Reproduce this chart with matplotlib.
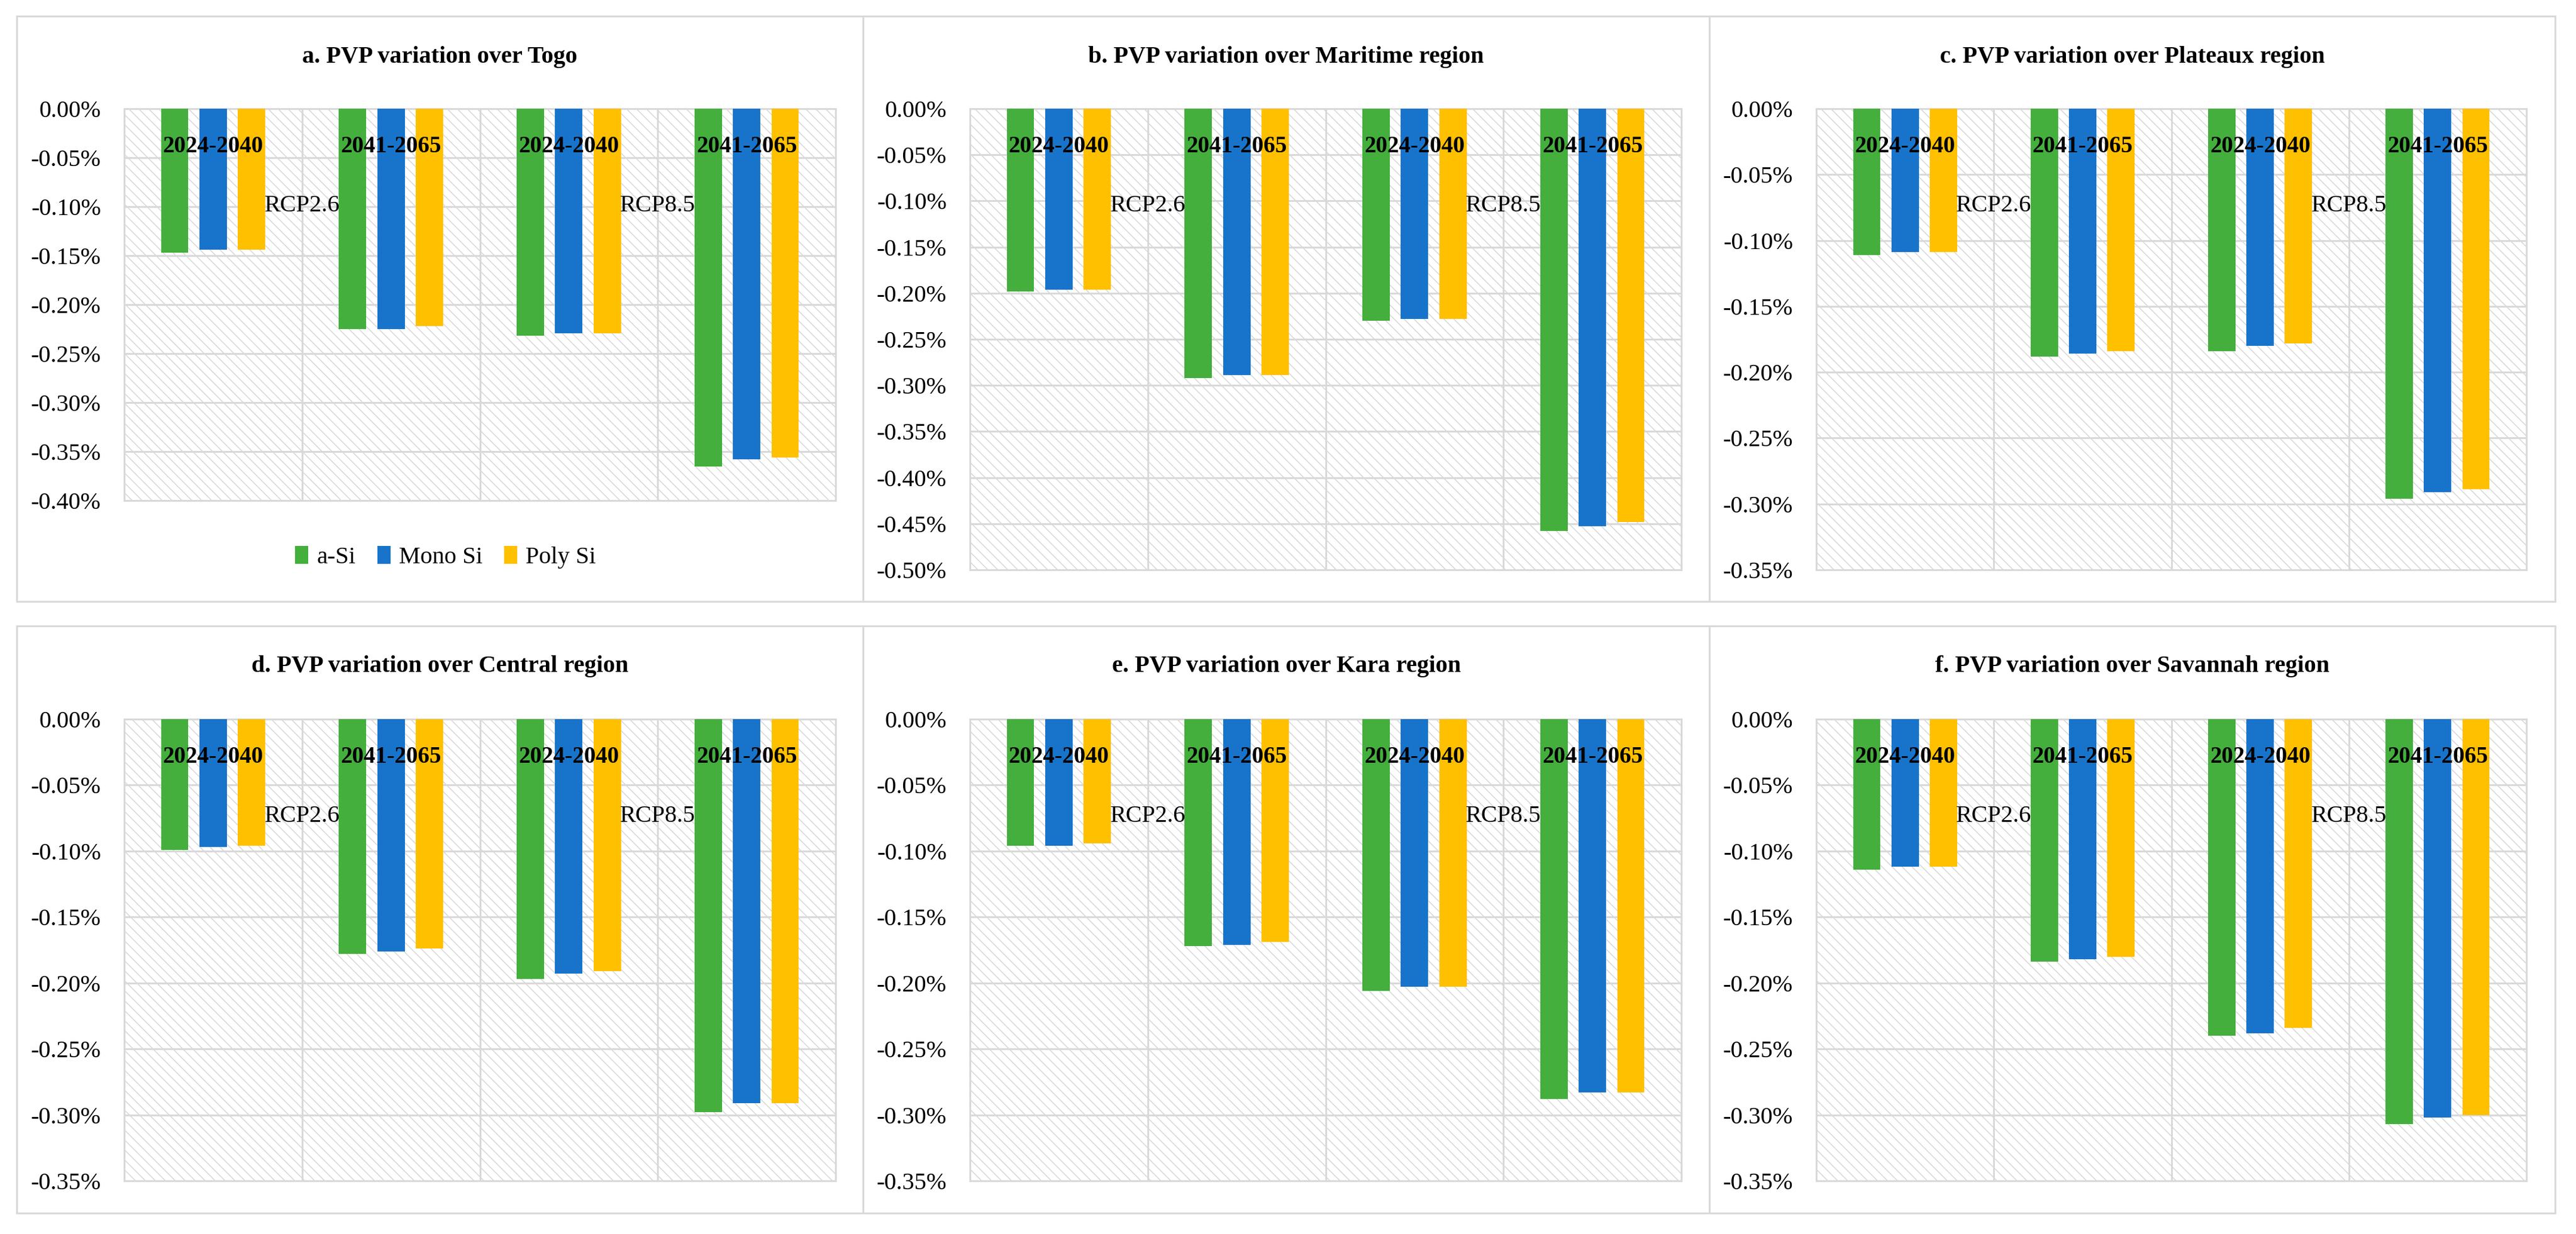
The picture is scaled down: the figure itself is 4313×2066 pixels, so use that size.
import matplotlib
matplotlib.use("Agg")
import matplotlib.pyplot as plt
from matplotlib.patches import Rectangle
from matplotlib.ticker import FuncFormatter, MultipleLocator
import numpy as np

plt.rcParams['font.family'] = ['Liberation Serif', 'DejaVu Serif']
plt.rcParams['hatch.linewidth'] = 1.0

# ---------------- data ----------------
periods = ["2024-2040", "2041-2065", "2024-2040", "2041-2065"]
scenarios = ["RCP2.6", "RCP8.5"]
techs = ["a-Si", "Mono Si", "Poly Si"]
colors = ["#44AF3D", "#1874CB", "#FFC000"]

titles = ["a. PVP variation over Togo",
          "b. PVP variation over Maritime region",
          "c. PVP variation over Plateaux region",
          "d. PVP variation over Central region",
          "e. PVP variation over Kara region",
          "f. PVP variation over Savannah region"]

# values in % ; rows: a-Si, Mono Si, Poly Si ; columns: periods
togo = [[-0.147, -0.225, -0.232, -0.365],
        [-0.144, -0.225, -0.229, -0.358],
        [-0.144, -0.222, -0.229, -0.356]]
maritime = [[-0.198, -0.292, -0.230, -0.458],
            [-0.196, -0.289, -0.228, -0.453],
            [-0.196, -0.289, -0.228, -0.448]]
plateaux = [[-0.111, -0.188, -0.184, -0.296],
            [-0.109, -0.186, -0.180, -0.291],
            [-0.109, -0.184, -0.178, -0.289]]
central = [[-0.099, -0.178, -0.197, -0.298],
           [-0.097, -0.176, -0.193, -0.291],
           [-0.096, -0.174, -0.191, -0.291]]
kara = [[-0.096, -0.172, -0.206, -0.288],
        [-0.096, -0.171, -0.203, -0.283],
        [-0.094, -0.169, -0.203, -0.283]]
savannah = [[-0.114, -0.184, -0.240, -0.307],
            [-0.112, -0.182, -0.238, -0.302],
            [-0.112, -0.180, -0.234, -0.300]]
regions = [togo, maritime, plateaux, central, kara, savannah]
ymins = [-0.40, -0.50, -0.35, -0.35, -0.35, -0.35]

# ---------------- layout ----------------
W, H = 4313, 2066
fig = plt.figure(figsize=(W / 100, H / 100), dpi=100)
GRAY = "#d9d9d9"

def fx(x):
    return x / W

def fy(y):
    return 1 - y / H

# panel frames (pixels): columns and rows
col_edges = [28, 1445, 2862, 4278]
row_edges = [(27, 1007), (1048, 2031)]
for (t, b) in row_edges:
    for i in range(3):
        fig.add_artist(Rectangle((fx(col_edges[i]), fy(b)),
                                 fx(col_edges[i + 1]) - fx(col_edges[i]),
                                 fy(t) - fy(b), transform=fig.transFigure,
                                 fill=False, edgecolor=GRAY, linewidth=2.2))

axes_px = [(208, 1399, 182, 838), (1624, 2815, 182, 954), (3041, 4230, 182, 954),
           (208, 1399, 1204, 1977), (1624, 2815, 1204, 1977), (3041, 4230, 1204, 1977)]
title_y = [96, 1115]

fmt = FuncFormatter(lambda v, p: ("%.2f%%" % v).replace("-0.00", "0.00"))

offsets = [-0.216, 0.0, 0.216]
bw = 0.154
x = np.arange(len(periods))

for k, ax_px in enumerate(axes_px):
    l, r, t, b = ax_px
    ax = fig.add_axes([fx(l), fy(b), fx(r) - fx(l), fy(t) - fy(b)])
    ax.set_axisbelow(True)
    # hatched background
    ax.add_patch(Rectangle((0, 0), 1, 1, transform=ax.transAxes, facecolor="white",
                           edgecolor="#d4d4d4", linewidth=0, hatch="\\\\", zorder=0.1))
    data = regions[k]
    for j in range(3):
        ax.bar(x + offsets[j], data[j], width=bw, color=colors[j], label=techs[j],
               zorder=3)
    ax.set_xlim(-0.5, len(periods) - 0.5)
    ax.set_ylim(ymins[k], 0)
    ax.yaxis.set_major_locator(MultipleLocator(0.05))
    ax.yaxis.set_major_formatter(fmt)
    ax.set_xticks([0.5, 1.5, 2.5])
    ax.set_xticklabels([])
    ax.grid(True, color=GRAY, linewidth=2.2, zorder=0.5)
    ax.tick_params(axis='both', length=0, labelsize=29, pad=28)
    for s in ax.spines.values():
        s.set_color(GRAY)
        s.set_linewidth(2.2)
    # period labels
    for i, lab in enumerate(periods):
        ax.annotate(lab, xy=(i, 1), xycoords=('data', 'axes fraction'),
                    xytext=(0, -46), textcoords='offset points', ha='center',
                    va='center', fontsize=28, fontweight='bold', zorder=5)
    for i, sc in enumerate(scenarios):
        ax.annotate(sc, xy=(0.5 + 2 * i, 1), xycoords=('data', 'axes fraction'),
                    xytext=(0, -117), textcoords='offset points', ha='center',
                    va='center', fontsize=29, zorder=5)
    col = k % 3
    row = k // 3
    cx = (col_edges[col] + col_edges[col + 1]) / 2
    fig.text(fx(cx), fy(title_y[row]), titles[k], ha='center', va='center',
             fontsize=29, fontweight='bold')
    if k == 0:
        handles, labels = ax.get_legend_handles_labels()
        fig.legend(handles, labels, loc='center', ncol=3, frameon=False,
                   bbox_to_anchor=(fx(746), fy(933)), fontsize=29,
                   handlelength=0.55, handleheight=0.75, handletextpad=0.35,
                   columnspacing=0.9)

fig.savefig("out.png", dpi=100, facecolor="white")
